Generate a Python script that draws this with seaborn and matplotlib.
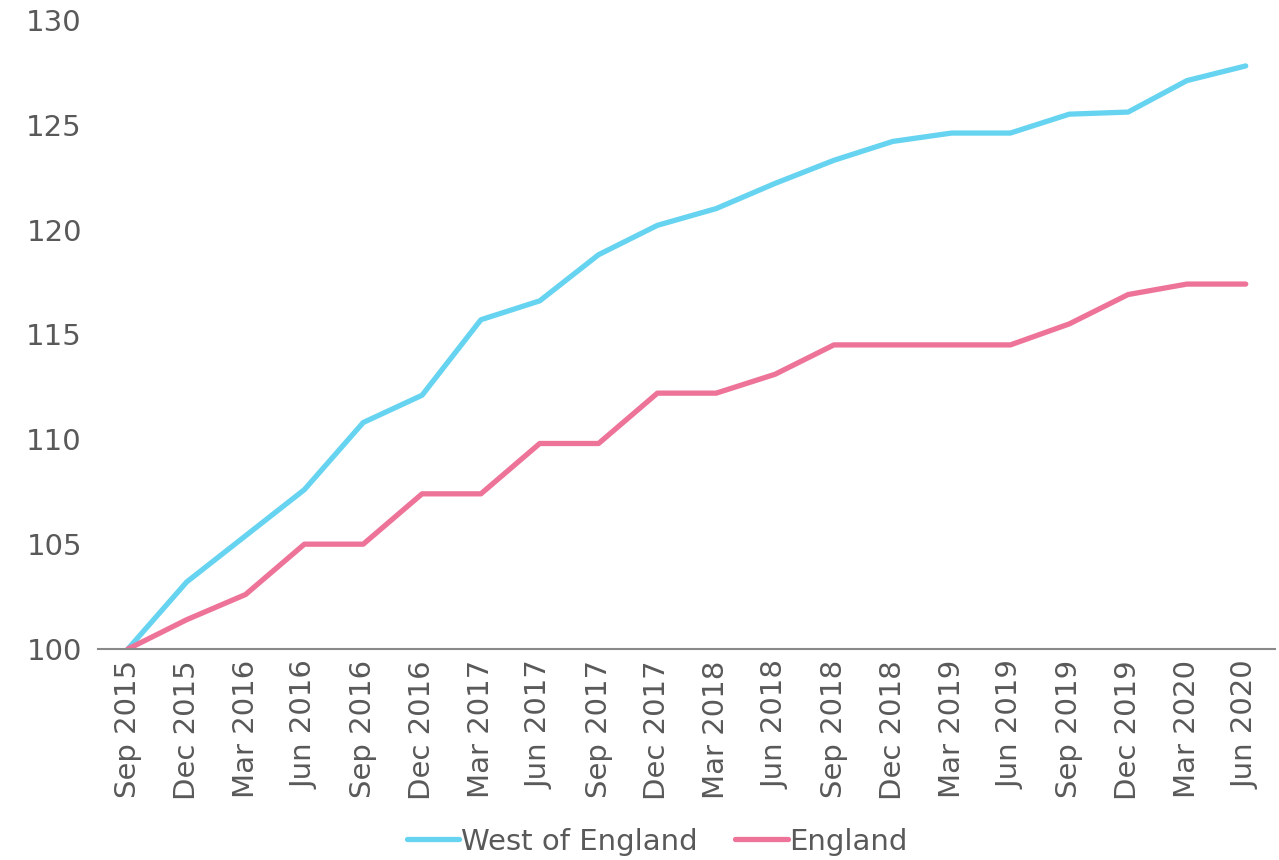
import matplotlib
matplotlib.use('Agg')
import matplotlib.pyplot as plt
import pandas as pd
import seaborn as sns

quarters = ["Sep 2015", "Dec 2015", "Mar 2016", "Jun 2016", "Sep 2016", "Dec 2016",
            "Mar 2017", "Jun 2017", "Sep 2017", "Dec 2017", "Mar 2018", "Jun 2018",
            "Sep 2018", "Dec 2018", "Mar 2019", "Jun 2019", "Sep 2019", "Dec 2019",
            "Mar 2020", "Jun 2020"]
west_of_england = [100, 103.2, 105.4, 107.6, 110.8, 112.1, 115.7, 116.6, 118.8, 120.2,
                   121.0, 122.2, 123.3, 124.2, 124.6, 124.6, 125.5, 125.6, 127.1, 127.8]
england = [100, 101.4, 102.6, 105.0, 105.0, 107.4, 107.4, 109.8, 109.8, 112.2,
           112.2, 113.1, 114.5, 114.5, 114.5, 114.5, 115.5, 116.9, 117.4, 117.4]

series_names = ["West of England", "England"]
colors = ["#66D4F0", "#EE7399"]
text_color = "#595959"

df = pd.DataFrame({"quarter": quarters,
                   "West of England": west_of_england,
                   "England": england})
long = df.melt(id_vars="quarter", var_name="area", value_name="index")

sns.set_style("white")
plt.rcParams['font.family'] = ['DejaVu Sans']

fig = plt.figure(figsize=(12.79, 8.6), dpi=100)
ax = fig.add_axes([0.077, 0.2453, 0.920, 0.7317])

sns.lineplot(data=long, x="quarter", y="index", hue="area", hue_order=series_names,
             palette=colors, linewidth=3.8, sort=False, ax=ax)

ax.set_xlim(-0.5, len(quarters) - 0.5)
ax.set_ylim(100, 130)
ax.set_yticks(range(100, 131, 5))
ax.set_xlabel("")
ax.set_ylabel("")
ax.tick_params(axis='x', rotation=90, labelsize=21, colors=text_color, length=0, pad=8)
ax.tick_params(axis='y', labelsize=21, colors=text_color, length=0, pad=12)

for side in ["top", "right", "left"]:
    ax.spines[side].set_visible(False)
ax.spines["bottom"].set_color("#898989")
ax.spines["bottom"].set_linewidth(1.5)

handles, labels = ax.get_legend_handles_labels()
ax.legend(handles, labels, loc="lower center", bbox_to_anchor=(0.475, -0.37),
          ncol=2, frameon=False, fontsize=21, labelcolor=text_color,
          handlelength=1.8, handletextpad=0.05, columnspacing=1.3)

fig.savefig("out.png", dpi=100)
